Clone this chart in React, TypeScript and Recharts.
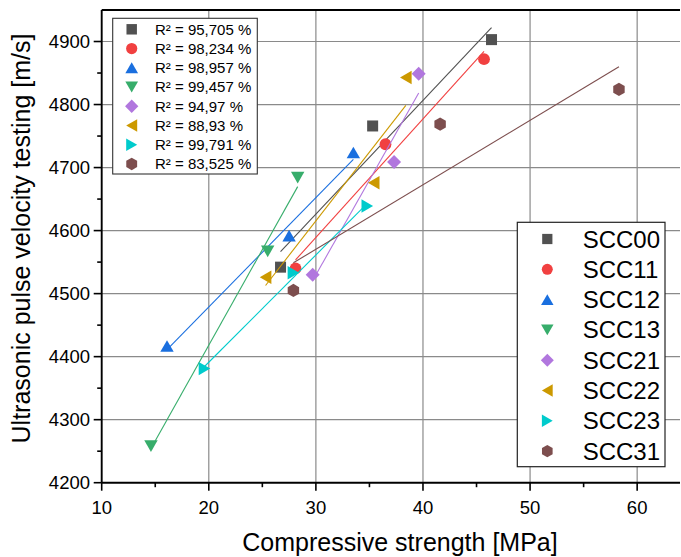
import React from 'react';
import { ScatterChart, Scatter, XAxis, YAxis, CartesianGrid, ReferenceLine } from 'recharts';

// Mixes and their fit-quality annotations
const seriesNames = ['SCC00', 'SCC11', 'SCC12', 'SCC13', 'SCC21', 'SCC22', 'SCC23', 'SCC31'];
const rSquaredLabels = [
  'R² = 95,705 %',
  'R² = 98,234 %',
  'R² = 98,957 %',
  'R² = 99,457 %',
  'R² = 94,97 %',
  'R² = 88,93 %',
  'R² = 99,791 %',
  'R² = 83,525 %',
];
const seriesColors = ['#515151', '#F14040', '#1A6FDF', '#37AD6B', '#B177DE', '#CC9900', '#00CBCC', '#7D4E4E'];
const markerKinds = ['square', 'circle', 'up', 'down', 'diamond', 'left', 'right', 'hexagon'];

// Compressive strength [MPa] / ultrasonic pulse velocity [m/s]
const strengthSCC00 = [26.7, 35.3, 46.4];
const velocitySCC00 = [4542, 4766, 4903];
const strengthSCC11 = [28.1, 36.5, 45.7];
const velocitySCC11 = [4540, 4737, 4872];
const strengthSCC12 = [16.1, 27.5, 33.5];
const velocitySCC12 = [4417, 4592, 4724];
const strengthSCC13 = [14.6, 25.5, 28.3];
const velocitySCC13 = [4258, 4567, 4684];
const strengthSCC21 = [29.7, 37.3, 39.6];
const velocitySCC21 = [4530, 4709, 4849];
const strengthSCC22 = [25.3, 35.4, 38.4];
const velocitySCC22 = [4526, 4676, 4843];
const strengthSCC23 = [19.6, 27.9, 34.8];
const velocitySCC23 = [4381, 4533, 4639];
const strengthSCC31 = [27.9, 41.6, 58.3];
const velocitySCC31 = [4505, 4769, 4824];

const strengthBySeries = [strengthSCC00, strengthSCC11, strengthSCC12, strengthSCC13, strengthSCC21, strengthSCC22, strengthSCC23, strengthSCC31];
const velocityBySeries = [velocitySCC00, velocitySCC11, velocitySCC12, velocitySCC13, velocitySCC21, velocitySCC22, velocitySCC23, velocitySCC31];

const xMajorTicks = [10, 20, 30, 40, 50, 60];
const xMinorTicks = [15, 25, 35, 45, 55];
const yMajorTicks = [4200, 4300, 4400, 4500, 4600, 4700, 4800, 4900];
const yMinorTicks = [4250, 4350, 4450, 4550, 4650, 4750, 4850];
const xDomain = [10, 64];
const yDomain = [4200, 4950];

const FONT = '"Liberation Sans", Arial, Helvetica, sans-serif';
const TICK_SIZE = 8;
const X_TICK_MARGIN = 10;
const Y_TICK_MARGIN = 3.7;

const series = seriesNames.map((name, i) => ({
  name,
  color: seriesColors[i],
  kind: markerKinds[i],
  r2: rSquaredLabels[i],
  points: strengthBySeries[i].map((x, j) => ({ x, y: velocityBySeries[i][j] })),
}));

function Marker({ kind, cx, cy, color, scale = 1 }) {
  const s = scale;
  switch (kind) {
    case 'square':
      return <rect x={cx - 5.5 * s} y={cy - 5.5 * s} width={11 * s} height={11 * s} fill={color} />;
    case 'circle':
      return <circle cx={cx} cy={cy} r={5.9 * s} fill={color} />;
    case 'up':
      return <polygon points={`${cx},${cy - 5.8 * s} ${cx - 6.7 * s},${cy + 5.8 * s} ${cx + 6.7 * s},${cy + 5.8 * s}`} fill={color} />;
    case 'down':
      return <polygon points={`${cx},${cy + 5.8 * s} ${cx - 6.7 * s},${cy - 5.8 * s} ${cx + 6.7 * s},${cy - 5.8 * s}`} fill={color} />;
    case 'left':
      return <polygon points={`${cx - 5.8 * s},${cy} ${cx + 5.8 * s},${cy - 6.7 * s} ${cx + 5.8 * s},${cy + 6.7 * s}`} fill={color} />;
    case 'right':
      return <polygon points={`${cx + 5.8 * s},${cy} ${cx - 5.8 * s},${cy - 6.7 * s} ${cx - 5.8 * s},${cy + 6.7 * s}`} fill={color} />;
    case 'diamond':
      return <polygon points={`${cx},${cy - 7 * s} ${cx + 7 * s},${cy} ${cx},${cy + 7 * s} ${cx - 7 * s},${cy}`} fill={color} />;
    case 'hexagon': {
      const r = 6.6 * s;
      const pts = [0, 1, 2, 3, 4, 5]
        .map((k) => {
          const a = (Math.PI / 180) * (-90 + 60 * k);
          return `${cx + r * Math.cos(a)},${cy + r * Math.sin(a)}`;
        })
        .join(' ');
      return <polygon points={pts} fill={color} />;
    }
    default:
      return null;
  }
}

function XTick(props) {
  const { x, y, payload } = props;
  const v = payload.value;
  const major = v % 10 === 0;
  const axisY = y - TICK_SIZE - X_TICK_MARGIN;
  return (
    <g>
      <line x1={x} x2={x} y1={axisY} y2={axisY + (major ? 8 : 4.5)} stroke="#000" strokeWidth={1.6} />
      {major && (
        <text x={x} y={y} dy="0.71em" textAnchor="middle" fontFamily={FONT} fontSize={18.5} fill="#000">
          {v}
        </text>
      )}
    </g>
  );
}

function YTick(props) {
  const { x, y, payload } = props;
  const v = payload.value;
  const major = v % 100 === 0;
  const axisX = x + TICK_SIZE + Y_TICK_MARGIN;
  return (
    <g>
      <line x1={axisX} x2={axisX - (major ? 8 : 4.5)} y1={y} y2={y} stroke="#000" strokeWidth={1.6} />
      {major && (
        <text x={x} y={y} dy="0.355em" textAnchor="end" fontFamily={FONT} fontSize={18.5} fill="#000">
          {v}
        </text>
      )}
    </g>
  );
}

function FitLegend() {
  const top = 29.3;
  const step = 19.24;
  return (
    <g>
      <rect x={112.7} y={18.3} width={144.6} height={155.7} fill="#fff" stroke="#333" strokeWidth={1.1} />
      {series.map((s, i) => (
        <g key={s.name}>
          <Marker kind={s.kind} cx={131.7} cy={top + i * step} color={s.color} scale={0.95} />
          <text x={155} y={top + i * step} dy="0.355em" fontFamily={FONT} fontSize={15} fill="#000">
            {s.r2}
          </text>
        </g>
      ))}
    </g>
  );
}

function SeriesLegend() {
  const top = 239;
  const step = 30.3;
  return (
    <g>
      <rect x={517.3} y={222.3} width={147.7} height={244.4} fill="#fff" stroke="#222" strokeWidth={1.2} />
      {series.map((s, i) => (
        <g key={s.name}>
          <Marker kind={s.kind} cx={547.3} cy={top + i * step} color={s.color} scale={0.93} />
          <text x={582.7} y={top + i * step} dy="0.355em" fontFamily={FONT} fontSize={24} fill="#000">
            {s.name}
          </text>
        </g>
      ))}
    </g>
  );
}

export default function App() {
  return (
    <div style={{ position: 'absolute', left: 0, top: 0, width: 681, height: 557, background: '#fff' }}>
      <ScatterChart width={681} height={557} margin={{ top: 10, right: 1, bottom: 0, left: 0 }}>
        <CartesianGrid
          stroke="#8a8a8a"
          strokeWidth={1.2}
          horizontalValues={yMajorTicks.slice(1)}
          verticalValues={xMajorTicks.slice(1)}
        />
        <XAxis
          type="number"
          dataKey="x"
          domain={xDomain}
          ticks={[...xMajorTicks, ...xMinorTicks].sort((a, b) => a - b)}
          interval={0}
          allowDataOverflow
          height={74.3}
          tickSize={TICK_SIZE}
          tickMargin={X_TICK_MARGIN}
          tickLine={false}
          tick={<XTick />}
          axisLine={{ stroke: '#000', strokeWidth: 1.9 }}
          label={{
            content: () => (
              <text x={400} y={551.3} textAnchor="middle" fontFamily={FONT} fontSize={25} fill="#000">
                Compressive strength [MPa]
              </text>
            ),
          }}
        />
        <YAxis
          type="number"
          dataKey="y"
          domain={yDomain}
          ticks={[...yMajorTicks, ...yMinorTicks].sort((a, b) => a - b)}
          interval={0}
          allowDataOverflow
          width={101.7}
          tickSize={TICK_SIZE}
          tickMargin={Y_TICK_MARGIN}
          tickLine={false}
          tick={<YTick />}
          axisLine={{ stroke: '#000', strokeWidth: 1.9 }}
          label={{
            content: () => (
              <text
                x={30.4}
                y={238.5}
                transform="rotate(-90 30.4 238.5)"
                textAnchor="middle"
                fontFamily={FONT}
                fontSize={25}
                fill="#000"
              >
                Ultrasonic pulse velocity testing [m/s]
              </text>
            ),
          }}
        />
        <ReferenceLine y={yDomain[1]} stroke="#000" strokeWidth={2} />
        {series.map((s) => (
          <Scatter
            key={s.name}
            name={s.name}
            data={s.points}
            fill={s.color}
            line={{ stroke: s.color, strokeWidth: 1.1 }}
            lineType="fitting"
            shape={(p) => <Marker kind={s.kind} cx={p.cx} cy={p.cy} color={s.color} />}
            isAnimationActive={false}
          />
        ))}
      </ScatterChart>
      <svg width={681} height={557} style={{ position: 'absolute', left: 0, top: 0, pointerEvents: 'none' }}>
        <FitLegend />
        <SeriesLegend />
      </svg>
    </div>
  );
}
